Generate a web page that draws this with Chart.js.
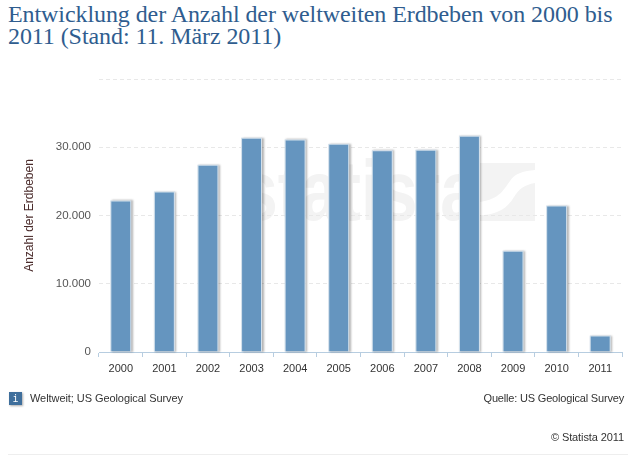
<!DOCTYPE html>
<html lang="de">
<head>
<meta charset="utf-8">
<title>Erdbeben</title>
<script src="https://cdn.jsdelivr.net/npm/chart.js@4"></script>
<style>
html, body { margin: 0; padding: 0; background: #fff; overflow: hidden; }
#page { position: relative; width: 638px; height: 455px; font-family: "Liberation Sans", Arial, sans-serif; font-size: 11px; color: #333; }
#page div { position: absolute; white-space: nowrap; }
#titel { left: 8px; top: 3px; font-family: "Liberation Serif", serif; font-size: 24px; line-height: 22px; letter-spacing: -0.08px; color: #2f5d8f; }
#wasser { left: 240px; top: 141px; font-size: 85px; line-height: 100px; font-weight: bold; color: #f3f3f3; transform: scaleX(0.8); transform-origin: left top; }
#logo { left: 478px; top: 163px; width: 57px; height: 58px; }
#chart { position: absolute; left: 0; top: 0; }
#info { left: 9px; top: 392px; width: 13px; height: 13px; line-height: 13px; background: #3f6f9c; color: #fff; text-align: center; font-family: "DejaVu Sans Mono", monospace; font-size: 10px; box-shadow: 1px 1px 2px #aaa; }
#hinweis { left: 30px; top: 392px; letter-spacing: -0.07px; }
#quelle { right: 14px; top: 392px; letter-spacing: -0.18px; }
#copy { right: 14px; top: 431px; letter-spacing: -0.1px; }
#linie { left: 8px; top: 454px; width: 620px; height: 1px; background: #eee; }
</style>
</head>
<body>
<div id="page">
  <div id="titel">Entwicklung der Anzahl der weltweiten Erdbeben von 2000 bis<br>2011 (Stand: 11. März 2011)</div>
  <div id="wasser">statista</div>
  <div id="logo"><svg width="57" height="58" viewBox="0 0 57 58"><rect width="57" height="58" fill="#f3f3f3"/><path d="M2 39 C22 36 26 26 32 18 C37 10 46 8 57 7 L57 20 C46 22 41 26 36 34 C30 44 22 50 6 52 L2 52 Z" fill="#fff"/></svg></div>
  <canvas id="chart" width="638" height="455"></canvas>
  <div id="info">i</div>
  <div id="hinweis">Weltweit; US Geological Survey</div>
  <div id="quelle">Quelle: US Geological Survey</div>
  <div id="copy">© Statista 2011</div>
  <div id="linie"></div>
</div>
<script>
const jahre = ["2000", "2001", "2002", "2003", "2004", "2005", "2006", "2007", "2008", "2009", "2010", "2011"];
const erdbeben = [22200, 23500, 27450, 31400, 31150, 30500, 29550, 29650, 31700, 14850, 21450, 2400];
const achsenTitel = "Anzahl der Erdbeben";
const achsenMax = 40000;

// schatten rechts neben den balken, nur einmal pro balken damit der helle rand bleibt
const balkenSchatten = {
    id: "balkenSchatten",
    beforeDatasetsDraw(chart) {
        const ctx = chart.ctx;
        ctx.save();
        ctx.shadowColor = "rgba(0,0,0,0.3)";
        ctx.shadowBlur = 2;
        ctx.shadowOffsetX = 1.5;
        ctx.shadowOffsetY = 0;
        ctx.fillStyle = "#d3e0eb";
        chart.getDatasetMeta(0).data.forEach((bar) => {
            const p = bar.getProps(["x", "y", "base", "width"], true);
            ctx.fillRect(p.x - p.width / 2, p.y, p.width, p.base - p.y);
        });
        ctx.restore();
    }
};

let chart = new Chart(document.getElementById("chart"), {
    type: "bar",
    data: {
        labels: jahre,
        datasets: [{
            data: erdbeben,
            backgroundColor: "#6595bf",
            borderColor: "#d3e0eb",
            borderWidth: 1,
            categoryPercentage: 1,
            barPercentage: 0.48
        }]
    },
    plugins: [balkenSchatten],
    options: {
        responsive: false,
        animation: false,
        layout: { padding: { top: 79, right: 16, bottom: 78, left: 0 } },
        plugins: { legend: { display: false }, tooltip: { enabled: false } },
        scales: {
            x: {
                afterFit(scale) { scale.height = 25; },
                border: { color: "#b7cde0" },
                grid: { drawOnChartArea: false, drawTicks: true, tickLength: 5, color: "#b7cde0" },
                ticks: { color: "#333", padding: 5, maxRotation: 0, font: { family: "Liberation Sans", size: 11 } }
            },
            y: {
                min: 0,
                max: achsenMax,
                afterFit(scale) { scale.width = 99; },
                border: { display: false, dash: [4, 3] },
                grid: { color: "#e8e8e8", drawTicks: false },
                title: {
                    display: true,
                    text: achsenTitel,
                    color: "#4a2b2b",
                    font: { family: "Liberation Sans", size: 12 },
                    padding: { top: 22, bottom: 0 }
                },
                ticks: {
                    stepSize: 10000,
                    color: "#555",
                    padding: 8,
                    font: { family: "Liberation Sans", size: 11.5 },
                    // oberste linie ohne beschriftung
                    callback: (wert) => wert === achsenMax ? "" : wert.toLocaleString("de-DE")
                }
            }
        }
    }
});
</script>
</body>
</html>
